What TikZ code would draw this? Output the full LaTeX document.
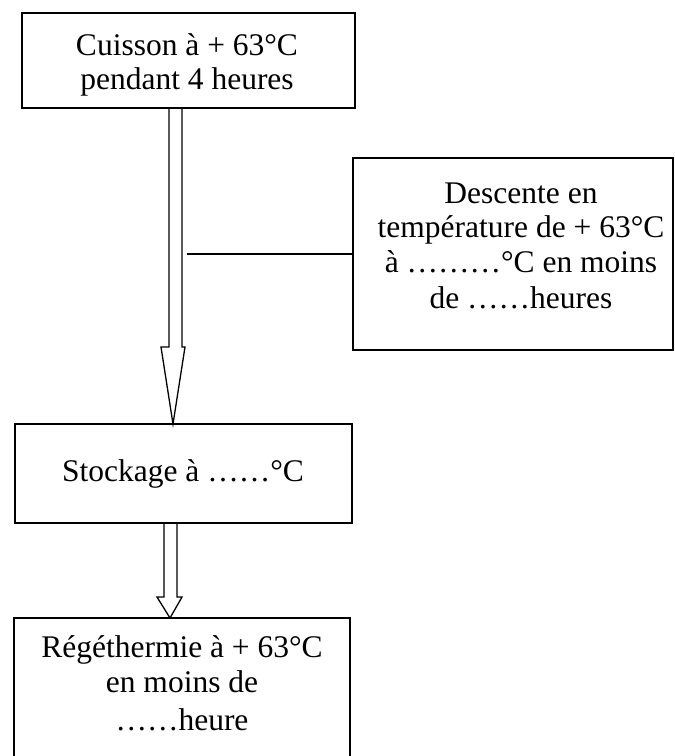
\documentclass[tikz,border=0pt]{standalone}
\usepackage{fontspec}
\setmainfont{Liberation Serif}
\begin{document}
\begin{tikzpicture}[x=1pt,y=-1pt,
  box/.style={draw=black,line width=1.3pt,rectangle,inner sep=0pt,outer sep=0pt},
  txt/.style={font=\fontsize{31.5}{35}\selectfont,align=center,inner sep=0pt,anchor=base},
  conn/.style={draw=black,line width=1.3pt,line join=miter}]
\useasboundingbox (0,0) rectangle (675,756);
% boxes
\node[box,minimum width=333pt,minimum height=95pt] (cuisson) at (188.5,60.5) {};
\node[box,minimum width=320pt,minimum height=192pt] (descente) at (513,254) {};
\node[box,minimum width=337pt,minimum height=99pt] (stockage) at (183.5,473.5) {};
\node[box,minimum width=336pt,minimum height=140pt] (regen) at (182,688) {};
% texts
\node[txt] (t1a) at (187,55) {Cuisson à + 63°C};
\node[txt] (t1b) at (187,89) {pendant 4 heures};
\node[txt] (t2a) at (521,203) {Descente en};
\node[txt] (t2b) at (521,237) {température de + 63°C};
\node[txt] (t2c) at (521,272) {à ………°C en moins};
\node[txt] (t2d) at (521,308) {de ……heures};
\node[txt] (t3) at (183,481) {Stockage à ……°C};
\node[txt] (t4a) at (182,657) {Régéthermie à + 63°C};
\node[txt] (t4b) at (182,692) {en moins de};
\node[txt] (t4c) at (182,730) {……heure};
% block arrow 1
\coordinate (a1tip) at (173,424);
\draw[conn] (169,108) -- (169,347) -- (161,347) -- (a1tip) -- (185,347) -- (182,347) -- (182,108);
% block arrow 2
\coordinate (a2tip) at (170,618);
\draw[conn] (164,523) -- (164,597) -- (157,597) -- (a2tip) -- (182,597) -- (177,597) -- (177,523);
% side connector
\coordinate (lineend) at (187,254);
\draw[conn] (descente.west) -- (lineend);
\end{tikzpicture}
\end{document}
